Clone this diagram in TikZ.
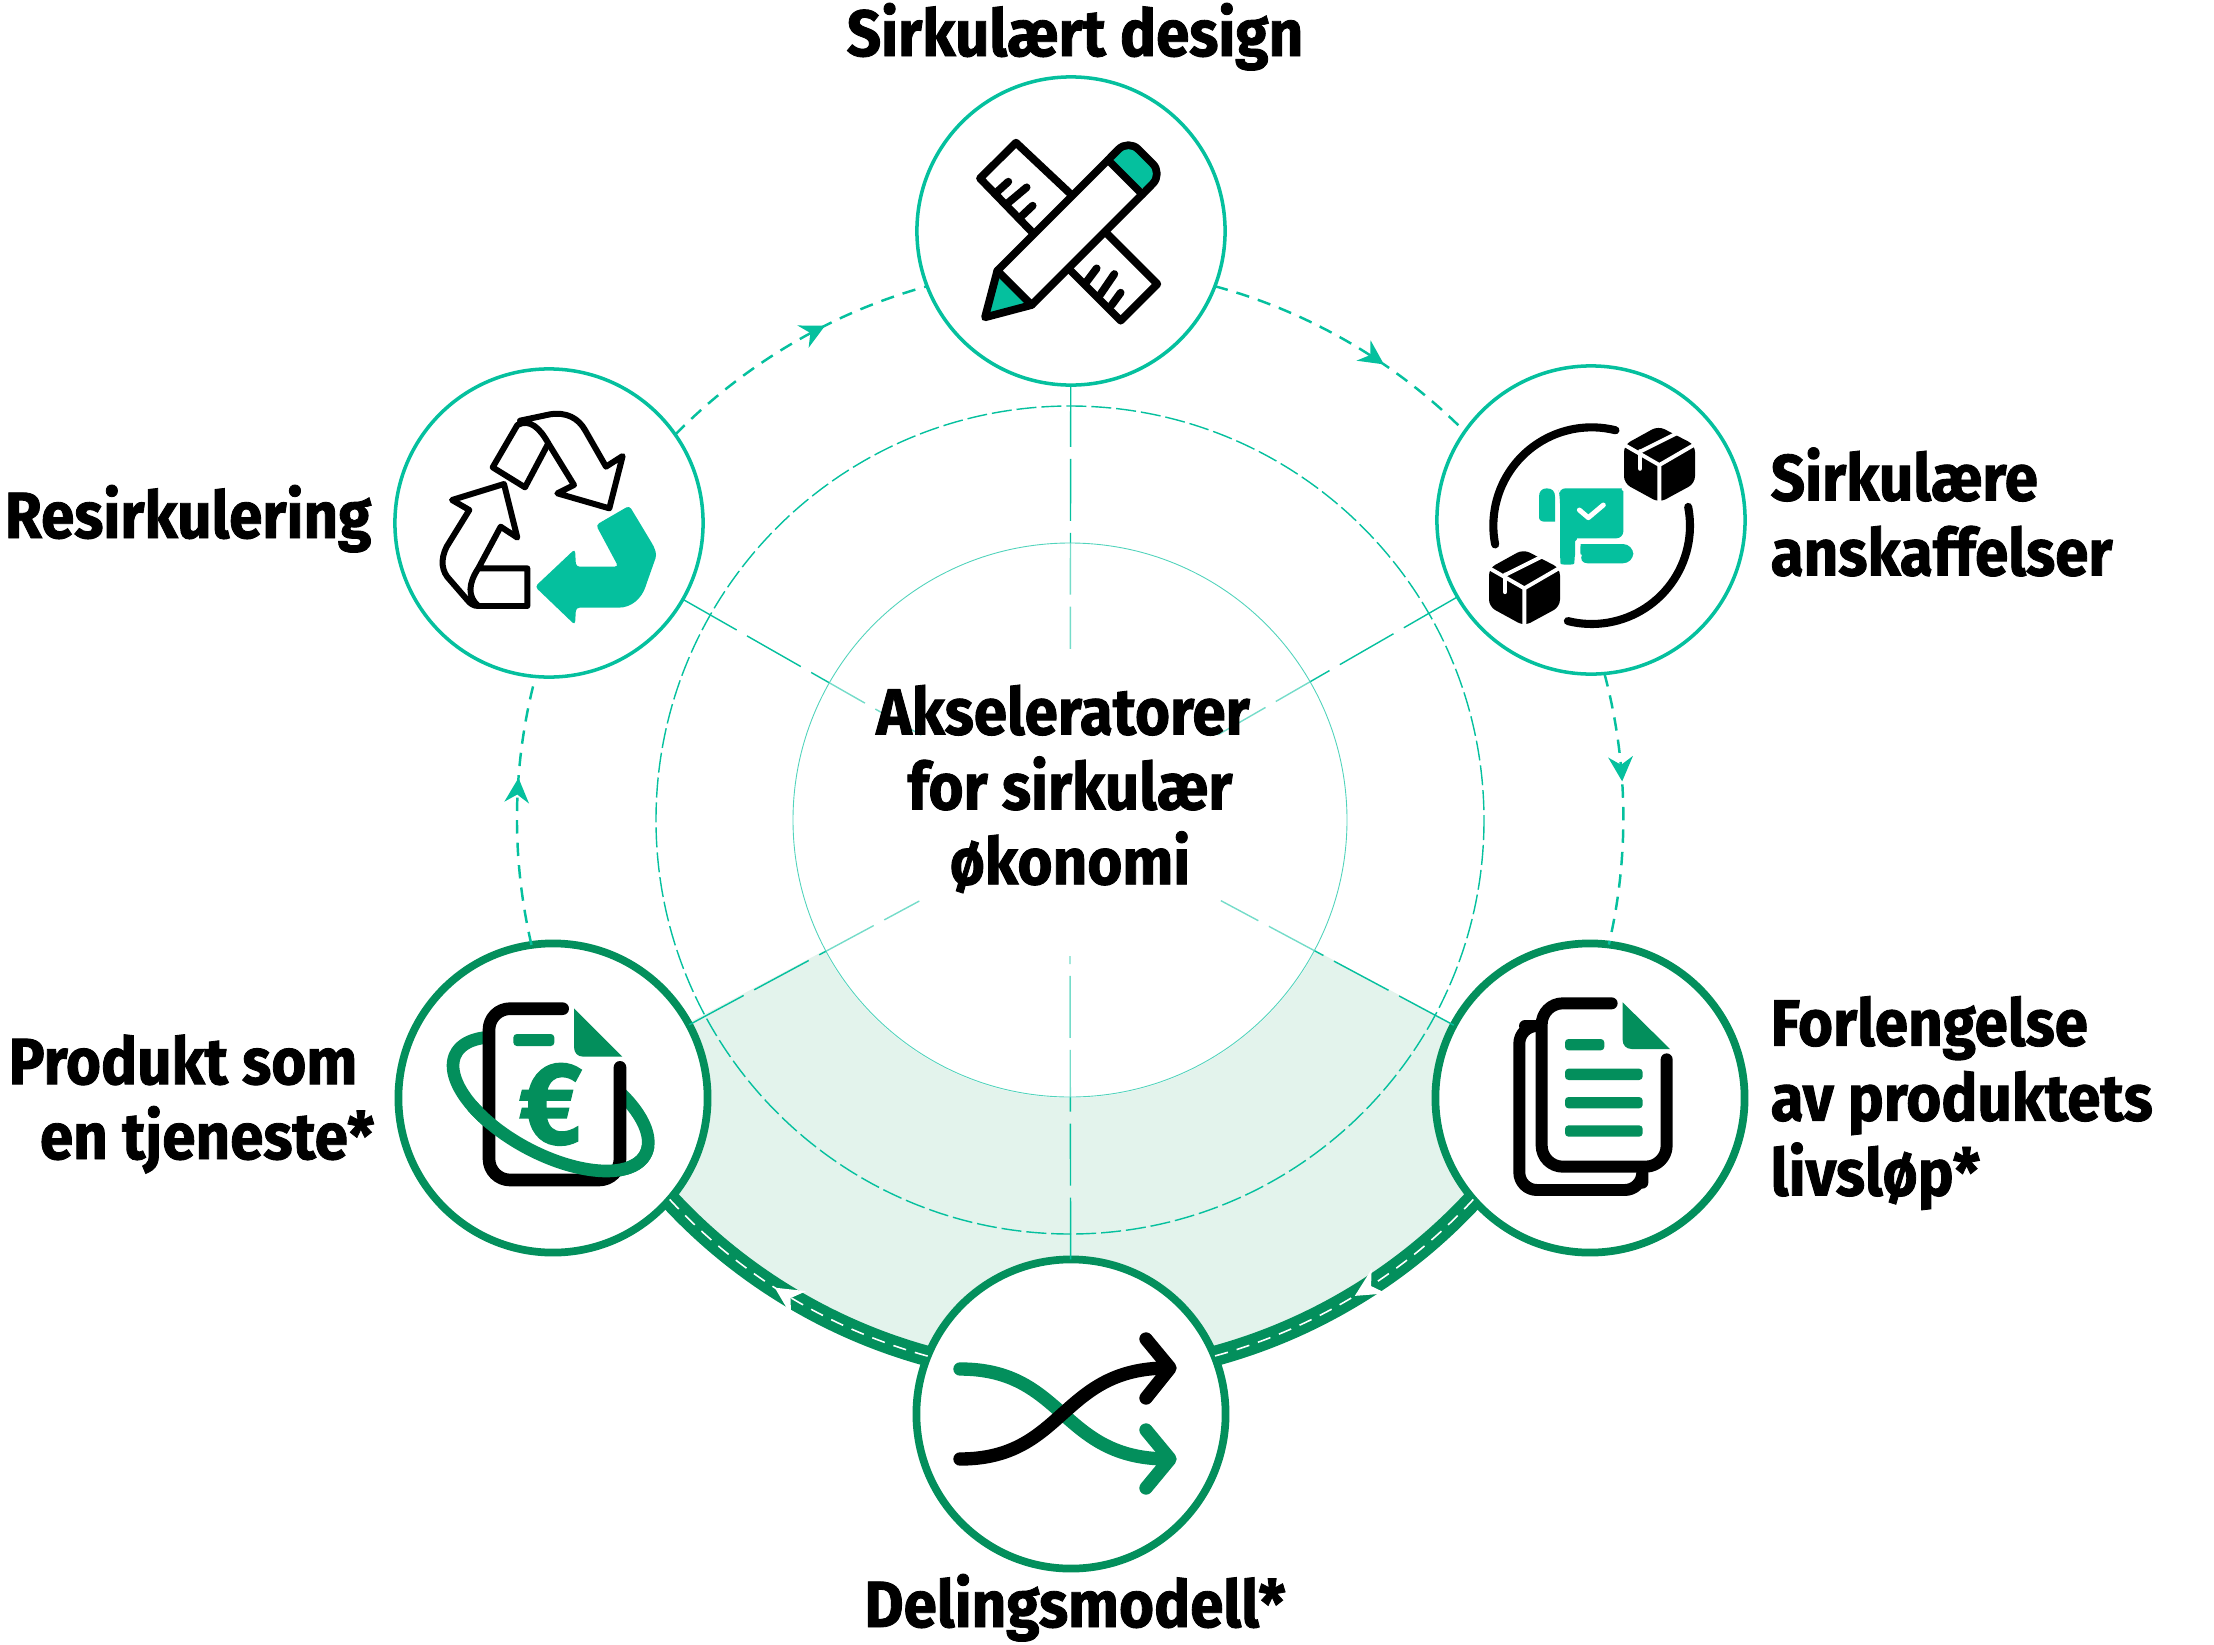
\documentclass[tikz,border=0pt]{standalone}
\usepackage{fontspec}
\setmainfont{Fira Sans}[BoldFeatures={FakeStretch=0.92,FakeBold=1.3}]
\usetikzlibrary{arrows.meta,calc,decorations.markings}
\definecolor{bteal}{HTML}{05C09E}
\definecolor{bgreen}{HTML}{038F5C}
\definecolor{bpale}{HTML}{E3F3EC}
\tikzstyle{stage} = [circle, draw=bteal, line width=1pt, fill=white, minimum size=3.08cm, inner sep=0pt, outer sep=0pt]
\tikzstyle{stagethick} = [stage, draw=bgreen, line width=2.2pt, minimum size=3.09cm]
\tikzstyle{label} = [font=\bfseries\fontsize{18.6}{21.3}\selectfont, inner sep=0pt, text=black]
\tikzstyle{flow} = [draw=bteal, line width=0.7pt, dash pattern=on 3.8pt off 2.6pt]
\tikzstyle{band} = [draw=bgreen, line width=5.8pt]
\tikzstyle{bandline} = [draw=white, line width=0.45pt, dash pattern=on 3.8pt off 2.6pt]
\tikzstyle{spoke} = [draw=bteal, line width=0.4pt, dash pattern=on 17.6pt off 3.4pt]
\tikzstyle{ring} = [draw=bteal!70, line width=0.25pt]
\tikzstyle{icon} = [draw=black, line cap=round, line join=round, line width=2.2pt]
\tikzset{
  flowtip/.style={postaction={decorate}, decoration={markings, mark=at position #1 with {\arrow{Stealth[length=7pt,width=7pt]}}}},
  bandtip/.style={postaction={decorate}, decoration={markings, mark=at position #1 with {\arrow{Stealth[length=8pt,width=8pt]}}}}
}
\begin{document}
\begin{tikzpicture}[x=0.01cm, y=-0.01cm]
\useasboundingbox (0,0) rectangle (2214,1645);

%% shaded part of the wheel
\fill[bpale] plot[domain=208:332, samples=60] ({1070+553*cos(\x)},{820-553*sin(\x)})
  -- plot[domain=332:208, samples=60] ({1070+278*cos(\x)},{820-278*sin(\x)}) -- cycle;

%% stages
\node[stage] at (1071,231) (design) {};
\node[stage] at (1591,520) (anskaffelser) {};
\node[stagethick] at (1590,1098) (forlengelse) {};
\node[stagethick] at (1071,1414) (deling) {};
\node[stagethick] at (553,1098) (produkt) {};
\node[stage] at (549,523) (resirk) {};
\node[circle, minimum size=3.42cm, inner sep=0pt, outer sep=0pt] at (1070,820) (hub) {};

%% spokes
\path[spoke] (design) -- (hub);
\path[spoke] (anskaffelser) -- (hub);
\path[spoke] (forlengelse) -- (hub);
\path[spoke] (deling) -- ([yshift=0.35cm]hub.south);
\path[spoke] (produkt) -- (hub);
\path[spoke] (resirk) -- (hub);

%% rings
\draw[ring, fill=white, fill opacity=0.45] (1070,820) circle[radius=277];
\draw[draw=bteal, line width=0.4pt, dash pattern=on 5.7pt off 1.4pt] (1070,820) circle[radius=414];

%% flow between the stages
\path[flow, flowtip=0.64] (design.-21) to[bend left=15, looseness=0.865] (anskaffelser.145);
\path[flow, flowtip=0.40] (anskaffelser.-85) to[bend left=14, looseness=0.865] (forlengelse.83);
\path[flow, flowtip=0.62] (produkt.98) to[bend left=14, looseness=0.865] (resirk.-95);
\path[flow, flowtip=0.63] (resirk.35) to[bend left=15, looseness=0.865] (design.201);

\path[band] (forlengelse.221) to[bend left=16, looseness=0.865] (deling.22);
\path[bandline, bandtip=0.50] (forlengelse.221) to[bend left=16, looseness=0.865] (deling.22);
\path[band] (deling.158) to[bend left=16, looseness=0.865] (produkt.-41);
\path[bandline, bandtip=0.55] (deling.158) to[bend left=16, looseness=0.865] (produkt.-41);

%% labels
\node[label, anchor=base] at (1075,56) (designlabel) {Sirkulært design};
\node[label, anchor=base east] at (372,538) (resirklabel) {Resirkulering};
\node[label, anchor=west, align=left] at (1770,512) (anskaffelserlabel) {Sirkulære\\anskaffelser};
\node[label, anchor=west, align=left] at (1770,1103) (forlengelselabel) {Forlengelse\\av produktets\\livsløp*};
\node[label, anchor=east, align=right] at (375,1104) (produktlabel) {Produkt som\hspace*{0.17cm}\\en tjeneste*};
\node[label, anchor=base] at (1075,1627) (delinglabel) {Delingsmodell*};
\node[label, anchor=center, align=center] at (1070,789) (hublabel) {Akseleratorer\hspace*{0.14cm}\\for sirkulær\\økonomi};

%% pencil and ruler
\begin{scope}[shift={(880,60)}, scale=1/3]
\draw[icon] (575,405) -- (408,248) -- (300,355) -- (455,515);
\draw[icon] (352,395) -- (385,365) (385,428) -- (440,382) (425,468) -- (458,437);
\draw[icon] (680,520) -- (832,672) -- (722,782) -- (570,630);
\draw[icon] (620,665) -- (650,625) (660,705) -- (703,642) (695,735) -- (722,698);
\fill[bteal, rounded corners=4pt] (684,300) -- (745,238) -- (848,341) -- (787,403) -- cycle;
\fill[bteal] (315,772) -- (352,632) -- (455,735) -- cycle;
\draw[icon, fill=white] (352,632) -- (684,300) -- (787,403) -- (455,735) -- cycle;
\draw[icon, rounded corners=4pt] (684,300) -- (745,238) -- (848,341) -- (787,403);
\draw[icon] (352,632) -- (315,772) -- (455,735);
\end{scope}

%% packages and document
\begin{scope}[shift={(1420,350)}, scale=1/3]
\draw[icon, line width=2.3pt] plot[domain=76:191, samples=40] ({515+295*cos(\x)},{527-295*sin(\x)});
\draw[icon, line width=2.3pt] plot[domain=11:-104, samples=40] ({515+295*cos(\x)},{527-295*sin(\x)});
\foreach \dx/\dy in {0/0, -405/370} {
  \begin{scope}[shift={(\dx,\dy)}]
  \fill[black, rounded corners=2pt] (715,228) -- (825,285) -- (825,400) -- (718,458) -- (612,400) -- (612,285) -- cycle;
  \draw[white, line width=1.1pt] (605,280) -- (718,345) -- (830,280) (718,345) -- (718,465);
  \draw[white, line width=1.1pt] (770,250) -- (660,305);
  \draw[white, line width=1.4pt, line cap=round] (660,305) -- (660,355);
  \end{scope}
}
\fill[bteal, rounded corners=2pt] (415,415) -- (585,415) .. controls (600,415) and (610,425) .. (610,445) -- (610,565) -- (490,565) .. controls (475,565) and (465,575) .. (465,595) -- (465,620) .. controls (462,645) and (422,645) .. (420,620) -- (420,440) -- cycle;
\fill[bteal] (405,440) .. controls (405,425) and (398,415) .. (380,415) .. controls (365,415) and (357,425) .. (357,440) -- (357,500) .. controls (357,510) and (362,515) .. (375,515) -- (405,515) -- cycle;
\fill[bteal, rounded corners=3pt] (482,582) -- (640,582) -- (640,640) -- (472,640) .. controls (480,625) and (480,600) .. (482,582);
\draw[white, line width=1.4pt, line cap=round, line join=round] (478,480) -- (505,503) -- (550,465);
\end{scope}

%% recycling arrows
\begin{scope}[shift={(380,350)}, scale=1/3]
\draw[icon, line width=1.7pt] (338,352) -- (412,225) .. controls (450,205) and (480,235) .. (505,280) -- (435,412) -- cycle;
\draw[icon, line width=1.7pt] (420,212) -- (510,193) .. controls (560,185) and (595,205) .. (615,240) -- (678,350) -- (728,318) -- (688,475) -- (532,430) -- (582,405) -- (505,280);
\draw[icon, line width=1.7pt] (295,768) .. controls (262,740) and (265,700) .. (295,655) -- (362,530) -- (412,563) -- (372,402) -- (216,450) -- (268,480) -- (200,590) .. controls (180,630) and (185,665) .. (210,690) -- (262,750) .. controls (270,760) and (280,768) .. (295,768) -- (442,768) -- (442,655) -- (295,655);
\fill[bteal, rounded corners=1pt] (748,467) -- (648,525) -- (715,650) -- (588,650) -- (585,597) -- (465,710) -- (585,825) -- (588,773) -- (705,773) .. controls (755,773) and (785,745) .. (800,700) -- (830,615) -- (822,590) -- cycle;
\end{scope}

%% invoice with euro
\begin{scope}[shift={(390,930)}, scale=1/3]
\draw[bgreen, line width=3.6pt] plot[domain=0:360, samples=72, smooth] ({482+322*cos(\x)*cos(28)-150*sin(\x)*sin(28)},{522+322*cos(\x)*sin(28)+150*sin(\x)*cos(28)});
\fill[white] (297,236) rectangle (690,750);
\draw[icon, line width=3.6pt, rounded corners=6pt] (518,236) -- (297,236) -- (297,750) -- (690,750) -- (690,412);
\draw[bgreen, line width=3.6pt] plot[domain=130:-10, samples=40, smooth] ({482+322*cos(\x)*cos(28)-150*sin(\x)*sin(28)},{522+322*cos(\x)*sin(28)+150*sin(\x)*cos(28)});
\fill[bgreen, rounded corners=1pt] (370,312) rectangle (493,348);
\fill[bgreen] (552,235) -- (697,380) -- (580,380) .. controls (562,380) and (552,368) .. (552,350) -- cycle;
\node[font=\bfseries\fontsize{33}{33}\selectfont, text=bgreen, inner sep=0pt] at (482,523) (euro) {€};
\end{scope}

%% copies of document
\begin{scope}[shift={(1440,940)}, scale=1/3]
\draw[icon, line width=3.4pt, rounded corners=6pt] (515,190) -- (305,190) -- (305,680) -- (680,680) -- (680,358);
\draw[icon, line width=3.4pt, rounded corners=5pt] (255,258) -- (238,258) -- (238,750) -- (607,750) -- (607,728);
\fill[bgreen, rounded corners=1pt] (375,297) rectangle (493,331);
\fill[bgreen, rounded corners=1pt] (375,386) rectangle (608,420);
\fill[bgreen, rounded corners=1pt] (375,471) rectangle (608,505);
\fill[bgreen, rounded corners=1pt] (375,556) rectangle (608,590);
\fill[bgreen] (548,187) -- (690,327) -- (575,327) .. controls (558,327) and (548,315) .. (548,300) -- cycle;
\end{scope}

%% crossing arrows
\draw[icon, draw=bgreen, line width=3.8pt] (960,1369) .. controls (1065,1369) and (1060,1459) .. (1168,1459);
\draw[icon, draw=bgreen, line width=3.8pt] (1146,1430) -- (1170,1459) -- (1146,1488);
\draw[icon, line width=3.8pt] (960,1459) .. controls (1065,1459) and (1060,1368) .. (1168,1368);
\draw[icon, line width=3.8pt] (1146,1339) -- (1170,1368) -- (1146,1398);

\end{tikzpicture}
\end{document}
